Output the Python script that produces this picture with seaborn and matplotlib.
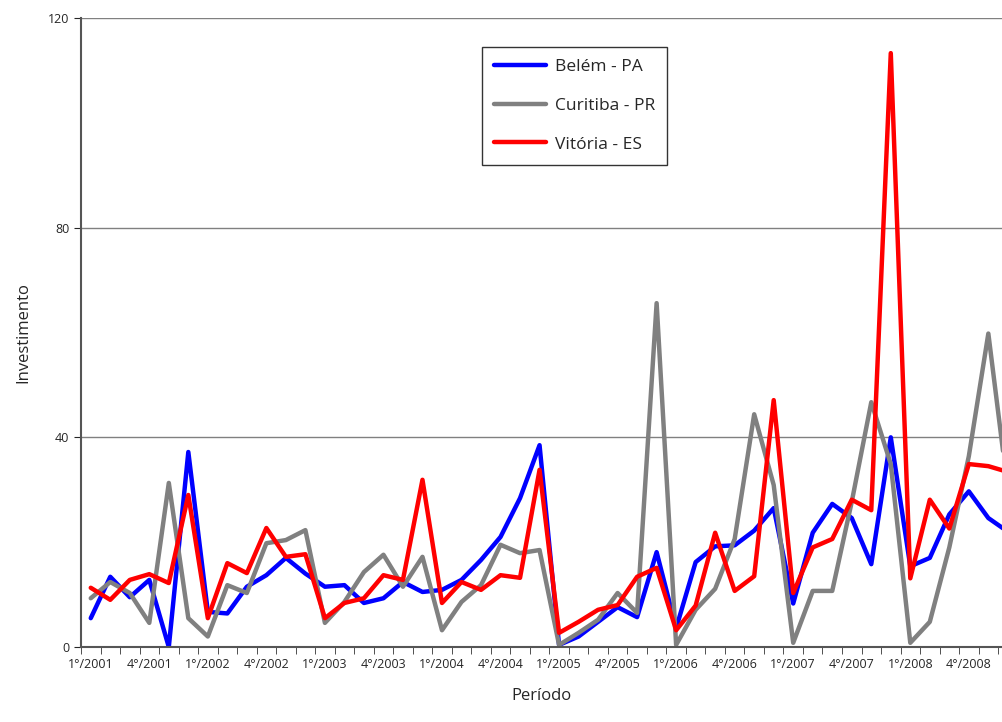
import numpy as np
import pandas as pd
import matplotlib
matplotlib.use("Agg")
import matplotlib.pyplot as plt
import seaborn as sns

# Investimento por bimestre, 2001-2008
belem = [5.5, 13.4, 9.5, 12.8, 0.0, 37.2, 6.7, 6.4, 11.5, 13.7, 17.0, 14.0,
         11.5, 11.8, 8.4, 9.3, 12.4, 10.5, 10.9, 12.8, 16.6, 21.0, 28.4, 38.5,
         0.4, 2.0, 4.8, 7.6, 5.7, 18.1, 3.6, 16.2, 19.2, 19.4, 22.2, 26.5,
         8.3, 21.8, 27.3, 24.6, 15.8, 40.0, 15.4, 17.0, 25.3, 29.7, 24.6, 22.0]
curitiba = [9.3, 12.4, 10.3, 4.6, 31.3, 5.5, 2.0, 11.8, 10.3, 19.8, 20.4, 22.3,
            4.6, 8.6, 14.3, 17.6, 11.5, 17.2, 3.2, 8.6, 11.8, 19.5, 17.9, 18.5,
            0.4, 2.7, 5.2, 10.3, 6.5, 65.6, 0.4, 7.1, 11.1, 20.6, 44.4, 30.9,
            0.8, 10.7, 10.7, 27.7, 46.7, 34.9, 0.8, 4.8, 19.0, 36.4, 59.8, 30.0]
vitoria = [11.3, 9.0, 12.8, 13.9, 12.2, 29.0, 5.5, 16.0, 14.1, 22.7, 17.2, 17.7,
           5.5, 8.4, 9.3, 13.7, 12.8, 31.9, 8.4, 12.4, 10.9, 13.7, 13.2, 33.8,
           2.7, 4.8, 7.1, 8.0, 13.4, 15.1, 3.2, 7.9, 21.8, 10.7, 13.5, 47.1,
           10.3, 19.0, 20.6, 28.1, 26.1, 113.3, 13.1, 28.1, 22.6, 34.9, 34.5, 33.4]
anos = list(range(2001, 2009))
rotulos = [f"{b}°/{a}" for a in anos for b in (1, 4)]

n = len(belem)
pos = np.arange(n) + 0.5
df = pd.DataFrame({
    "pos": np.tile(pos, 3),
    "valor": belem + curitiba + vitoria,
    "cidade": ["Belém - PA"] * n + ["Curitiba - PR"] * n + ["Vitória - ES"] * n,
})

sns.set_style("white")
plt.rcParams["font.family"] = ["Open Sans", "DejaVu Sans"]

fig = plt.figure(figsize=(10.02, 7.22), dpi=100)
ax = fig.add_axes([81 / 1002, 75 / 722, 921 / 1002, 629 / 722])
sns.lineplot(data=df, x="pos", y="valor", hue="cidade",
             palette=["#0000FF", "#808080", "#FF0000"], linewidth=3.2, ax=ax)

ax.set_xticks(pos[::3])
ax.set_xticklabels(rotulos[:len(pos[::3])], fontsize=9)
ax.set_xticks(np.arange(0, n + 1), minor=True)
ax.tick_params(axis="x", which="major", length=0, pad=8)
ax.tick_params(axis="x", which="minor", length=5, direction="out", color="#333333", bottom=True)
ax.tick_params(axis="y", labelsize=9, length=5, direction="out", left=True)
ax.set_yticks([0, 40, 80, 120])
ax.set_xlim(0, 47.2)
ax.set_ylim(0, 120)

ax.yaxis.grid(True, color="#808080", linewidth=1)
ax.set_axisbelow(True)
for s in ["top", "right"]:
    ax.spines[s].set_visible(False)
ax.spines["left"].set_color("#555555")
ax.spines["bottom"].set_color("#555555")
ax.spines["left"].set_linewidth(1.5)
ax.spines["bottom"].set_linewidth(1.5)

ax.set_xlabel("Período", fontsize=12, labelpad=12)
ax.set_ylabel("Investimento", fontsize=12, labelpad=12)

leg = ax.legend(loc="upper left", bbox_to_anchor=(0.426, 0.968), fontsize=12.5,
                frameon=True, fancybox=False, handlelength=3.0, borderpad=0.7,
                labelspacing=1.3, handletextpad=0.5)
leg.get_frame().set_edgecolor("black")
leg.get_frame().set_linewidth(1)

fig.savefig("out.png", dpi=100)
